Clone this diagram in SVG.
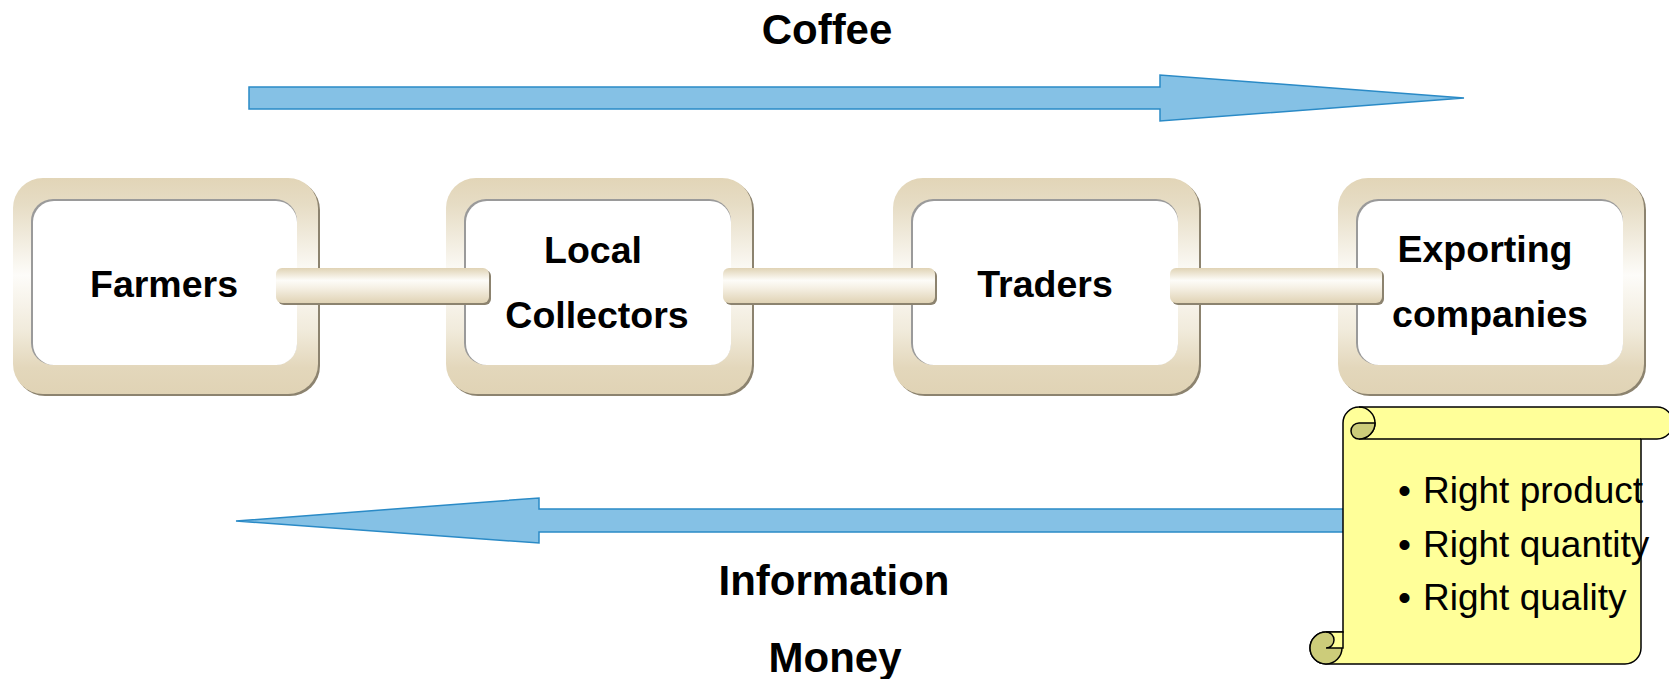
<svg xmlns="http://www.w3.org/2000/svg" width="1669" height="679" viewBox="0 0 1669 679">
  <defs>
    <linearGradient id="frameGrad" x1="0" y1="0" x2="0" y2="1">
      <stop offset="0" stop-color="#e2d5b7"/>
      <stop offset="0.12" stop-color="#e6dcc4"/>
      <stop offset="0.45" stop-color="#fdfcf9"/>
      <stop offset="0.7" stop-color="#f1ebdc"/>
      <stop offset="0.88" stop-color="#e3d7bb"/>
      <stop offset="1" stop-color="#e0d3b5"/>
    </linearGradient>
    <linearGradient id="barGrad" x1="0" y1="0" x2="0" y2="1">
      <stop offset="0" stop-color="#e0d3b5"/>
      <stop offset="0.35" stop-color="#fdfcf8"/>
      <stop offset="0.55" stop-color="#f6f1e6"/>
      <stop offset="1" stop-color="#e0d3b5"/>
    </linearGradient>
    <style>
      .frame-shadow{fill:#8c836f}
      .frame{fill:url(#frameGrad)}
      .inner-edge{fill:#9a9a9a}
      .inner{fill:#ffffff}
      .bar-shadow{fill:#8c836f}
      .bar{fill:url(#barGrad)}
      .label{font-family:"Liberation Sans",Arial,sans-serif;font-weight:bold;font-size:37.5px;fill:#000;text-anchor:middle}
      .flow-label{font-family:"Liberation Sans",Arial,sans-serif;font-weight:bold;font-size:42px;fill:#000;text-anchor:middle}
      .flow{fill:#85c1e5;stroke:#2a8ac6;stroke-width:1.5;stroke-linejoin:miter}
      .scroll{fill:#ffff99;stroke:#000;stroke-width:1.5}
      .scroll-dark{fill:#cccc7a;stroke:#000;stroke-width:1.5}
      .scroll-line{fill:none;stroke:#000;stroke-width:1.5}
      .item{font-family:"Liberation Sans",Arial,sans-serif;font-size:37px;fill:#000}
    </style>
  </defs>

  <rect width="1669" height="679" fill="#ffffff"/>

  <!-- flow arrows -->
  <g id="flows">
    <polygon class="flow" points="249,87 1160,87 1160,75 1464,98 1160,121 1160,109 249,109"/>
    <polygon class="flow" points="236,521 539,498 539,509 1352,509 1352,532 539,532 539,543"/>
  </g>

  <!-- chain members -->
  <g id="farmers">
    <rect class="frame-shadow" x="15" y="180" width="305" height="216" rx="30"/>
    <rect class="frame" x="13" y="178" width="305" height="216" rx="30"/>
    <rect class="inner-edge" x="31" y="199" width="266" height="166" rx="22"/>
    <rect class="inner" x="33" y="201" width="264" height="164" rx="21"/>
    <text class="label" x="164" y="297">Farmers</text>
  </g>
  <g id="local-collectors">
    <rect class="frame-shadow" x="448" y="180" width="306" height="216" rx="30"/>
    <rect class="frame" x="446" y="178" width="306" height="216" rx="30"/>
    <rect class="inner-edge" x="464" y="199" width="267" height="166" rx="22"/>
    <rect class="inner" x="466" y="201" width="265" height="164" rx="21"/>
    <text class="label" x="593" y="263">Local</text>
    <text class="label" x="597" y="328">Collectors</text>
  </g>
  <g id="traders">
    <rect class="frame-shadow" x="895" y="180" width="306" height="216" rx="30"/>
    <rect class="frame" x="893" y="178" width="306" height="216" rx="30"/>
    <rect class="inner-edge" x="911" y="199" width="267" height="166" rx="22"/>
    <rect class="inner" x="913" y="201" width="265" height="164" rx="21"/>
    <text class="label" x="1045" y="297">Traders</text>
  </g>
  <g id="exporting-companies">
    <rect class="frame-shadow" x="1340" y="180" width="306" height="216" rx="30"/>
    <rect class="frame" x="1338" y="178" width="306" height="216" rx="30"/>
    <rect class="inner-edge" x="1356" y="199" width="267" height="166" rx="22"/>
    <rect class="inner" x="1358" y="201" width="265" height="164" rx="21"/>
    <text class="label" x="1485" y="262">Exporting</text>
    <text class="label" x="1490" y="327">companies</text>
  </g>

  <!-- links between members -->
  <g id="links">
    <rect class="bar-shadow" x="278" y="270" width="213" height="35" rx="6"/>
    <rect class="bar" x="276" y="268" width="213" height="35" rx="6"/>
    <rect class="bar-shadow" x="725" y="270" width="212" height="35" rx="6"/>
    <rect class="bar" x="723" y="268" width="212" height="35" rx="6"/>
    <rect class="bar-shadow" x="1172" y="270" width="212" height="35" rx="6"/>
    <rect class="bar" x="1170" y="268" width="212" height="35" rx="6"/>
  </g>

  <!-- flow labels -->
  <g id="flow-labels">
    <text class="flow-label" x="827" y="44">Coffee</text>
    <text class="flow-label" x="834" y="595">Information</text>
    <text class="flow-label" x="835" y="672">Money</text>
  </g>

  <!-- requirements scroll -->
  <g id="requirements">
    <path class="scroll" d="M1359,407 L1657,407 A16,16 0 0 1 1657,439 L1641,439 L1641,648 A16,16 0 0 1 1625,664 L1326,664 A16,16 0 0 1 1326,632 L1343,632 L1343,423 A16,16 0 0 1 1359,407 Z"/>
    <path class="scroll-line" d="M1359,439 L1641,439 M1359,407 A16,16 0 0 1 1359,439"/>
    <path class="scroll-dark" d="M1359,423 L1375,423 A16,16 0 0 1 1359,439 A8,8 0 0 1 1359,423 Z"/>
    <circle class="scroll-dark" cx="1326" cy="648" r="16"/>
    <path d="M1326,632 L1343,632 L1343,648 L1326,648 A8,8 0 0 0 1326,632 Z" fill="#ffff99"/>
    <path class="scroll-line" d="M1326,632 L1343,632 L1343,648 L1326,648 A8,8 0 0 0 1326,632"/>
    <text class="item" y="503"><tspan x="1398">•</tspan><tspan x="1423">Right product</tspan></text>
    <text class="item" y="557"><tspan x="1398">•</tspan><tspan x="1423">Right quantity</tspan></text>
    <text class="item" y="610"><tspan x="1398">•</tspan><tspan x="1423">Right quality</tspan></text>
  </g>
</svg>
